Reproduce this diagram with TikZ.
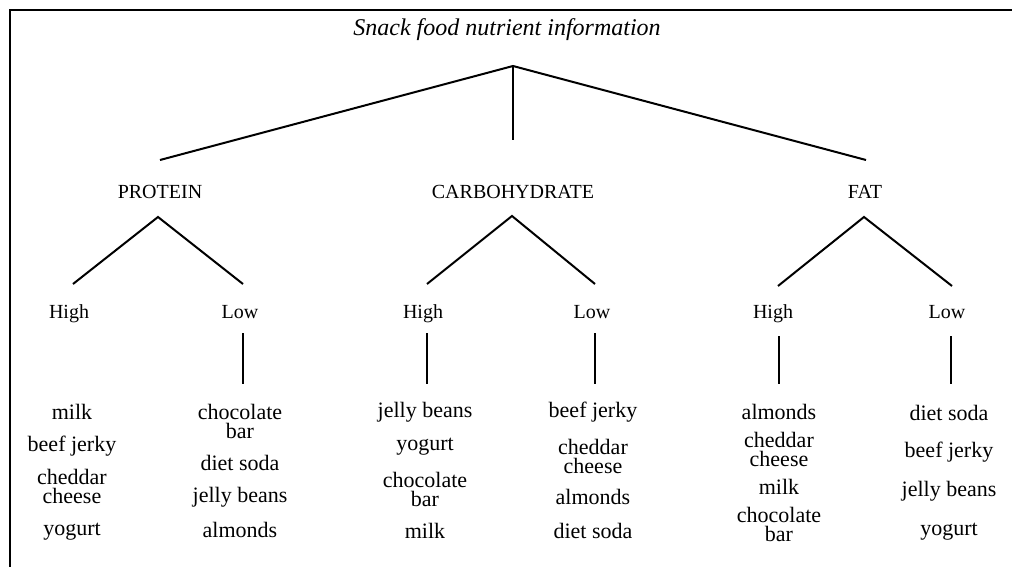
\documentclass[tikz,border=0pt]{standalone}
\usepackage{fontspec}
\setmainfont{Liberation Serif}
\begin{document}
\begin{tikzpicture}[x=1pt,y=-1pt,
  title/.style={font=\fontsize{24}{26}\selectfont\itshape, inner sep=0pt, anchor=base},
  lbl/.style={font=\fontsize{20}{22}\selectfont, inner sep=0pt, anchor=base},
  item/.style={font=\fontsize{22}{19}\selectfont, align=center, inner sep=0pt},
  branch/.style={line width=2pt},
  frame/.style={line width=2.8pt}]
\useasboundingbox (0,0) rectangle (1012,567);
\fill[white] (0,0) rectangle (1012,567);
\draw[frame] (10,567) -- (10,10) -- (1012,10);

% title and top split
\node[title] (root) at (507,36) {Snack food nutrient information};
\coordinate (rootj) at (513,66);
\coordinate (pTop) at (160,160);
\coordinate (cTop) at (513,140);
\coordinate (fTop) at (866,160);
\draw[branch] (pTop) -- (rootj) -- (fTop);
\draw[branch] (rootj) -- (cTop);

% nutrient categories
\node[lbl] (protein) at (160,198) {PROTEIN};
\node[lbl] (carbo) at (513,198) {CARBOHYDRATE};
\node[lbl] (fat) at (865,198) {FAT};

% apexes under each category
\coordinate (pA) at (158,217);
\coordinate (cA) at (512,216);
\coordinate (fA) at (864,217);
\coordinate (pH) at (73,284);
\coordinate (pL) at (243,284);
\coordinate (cH) at (427,284);
\coordinate (cL) at (595,284);
\coordinate (fH) at (778,286);
\coordinate (fL) at (952,286);
\draw[branch] (pH) -- (pA) -- (pL);
\draw[branch] (cH) -- (cA) -- (cL);
\draw[branch] (fH) -- (fA) -- (fL);

% High / Low labels
\node[lbl] (pHigh) at (69,318) {High};
\node[lbl] (pLow) at (240,318) {Low};
\node[lbl] (cHigh) at (423,318) {High};
\node[lbl] (cLow) at (592,318) {Low};
\node[lbl] (fHigh) at (773,318) {High};
\node[lbl] (fLow) at (947,318) {Low};

% stems down to the food lists
\coordinate (pLs) at (243,333);
\coordinate (pLe) at (243,384);
\coordinate (cHs) at (427,333);
\coordinate (cHe) at (427,384);
\coordinate (cLs) at (595,333);
\coordinate (cLe) at (595,384);
\coordinate (fHs) at (779,336);
\coordinate (fHe) at (779,384);
\coordinate (fLs) at (951,336);
\coordinate (fLe) at (951,384);
\draw[branch] (pLs) -- (pLe);
\draw[branch] (cHs) -- (cHe);
\draw[branch] (cLs) -- (cLe);
\draw[branch] (fHs) -- (fHe);
\draw[branch] (fLs) -- (fLe);

% protein: high
\node[item] (p1) at (72,412) {milk};
\node[item] (p2) at (72,446) {beef jerky};
\node[item] (p3) at (72,486) {cheddar\\cheese};
\node[item] (p4) at (72,532) {yogurt};
% protein: low
\node[item] (q1) at (240,421) {chocolate\\bar};
\node[item] (q2) at (240,463) {diet soda};
\node[item] (q3) at (240,497) {jelly beans};
\node[item] (q4) at (240,530) {almonds};
% carbohydrate: high
\node[item] (c1) at (425,412) {jelly beans};
\node[item] (c2) at (425,447) {yogurt};
\node[item] (c3) at (425,489) {chocolate\\bar};
\node[item] (c4) at (425,531) {milk};
% carbohydrate: low
\node[item] (d1) at (593,412) {beef jerky};
\node[item] (d2) at (593,456) {cheddar\\cheese};
\node[item] (d3) at (593,497) {almonds};
\node[item] (d4) at (593,531) {diet soda};
% fat: high
\node[item] (f1) at (779,412) {almonds};
\node[item] (f2) at (779,449) {cheddar\\cheese};
\node[item] (f3) at (779,487) {milk};
\node[item] (f4) at (779,524) {chocolate\\bar};
% fat: low
\node[item] (g1) at (949,413) {diet soda};
\node[item] (g2) at (949,452) {beef jerky};
\node[item] (g3) at (949,491) {jelly beans};
\node[item] (g4) at (949,532) {yogurt};
\end{tikzpicture}
\end{document}
